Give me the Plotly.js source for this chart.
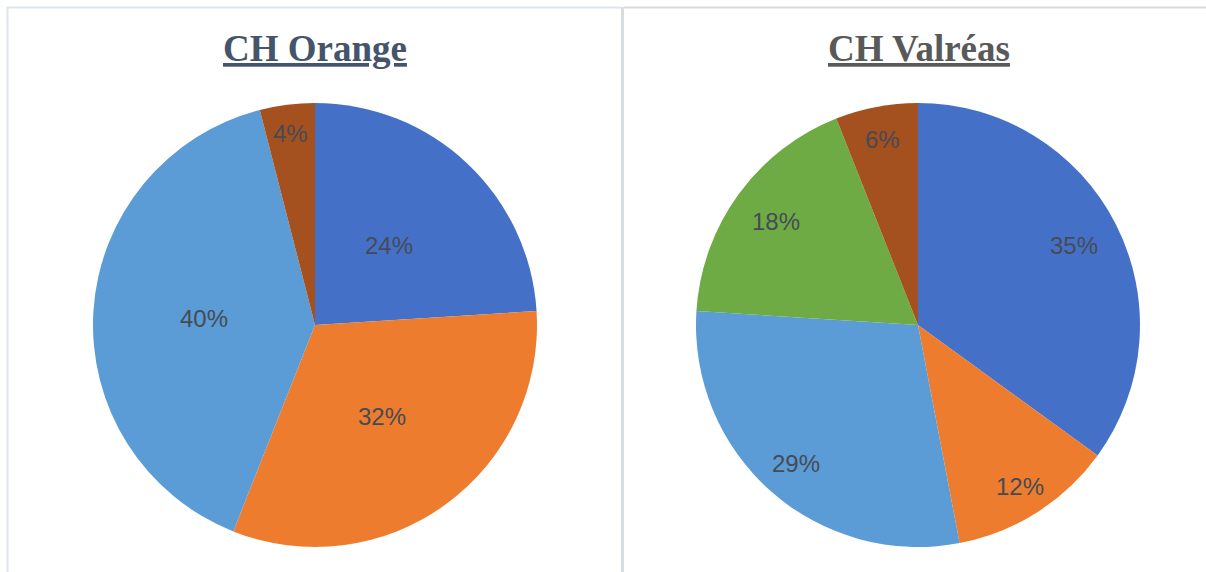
<!DOCTYPE html>
<html>
<head>
<meta charset="utf-8">
<script src="https://cdn.plot.ly/plotly-3.0.1.min.js"></script>
<style>html,body{margin:0;padding:0;background:#fff;}#chart{width:1206px;height:572px;}</style>
</head>
<body>
<div id="chart"></div>
<script>
const titles = ["CH Orange", "CH Valréas"];
const orangeCats = ["A", "B", "C", "D"];
const orangeVals = [24, 32, 40, 4];
const valreasCats = ["A", "B", "C", "E", "D"];
const valreasVals = [35, 12, 29, 18, 6];
const catColors = {A: "#4471C7", B: "#EE7C2E", C: "#5B9BD6", E: "#6EAB45", D: "#A5501F"};
// label distance from centre as a fraction of the radius (style, Excel "best fit")
const orangeLabelR = [0.49, 0.51, 0.50, 0.87];
const valreasLabelR = [0.79, 0.86, 0.83, 0.79, 0.85];

const W = 1206, H = 572;
const R = 222, CY = 325;
const CX = [315, 918];
function dom(cx, cy, r) {
  return {x: [(cx - r) / W, (cx + r) / W], y: [(H - cy - r) / H, (H - cy + r) / H]};
}
function pie(cats, vals, d) {
  return {
    type: "pie", labels: cats, values: vals, sort: false, direction: "clockwise", rotation: 0,
    domain: d, textinfo: "none",
    marker: {colors: cats.map(c => catColors[c]), line: {width: 0}},
    showlegend: false, hoverinfo: "none"
  };
}
function labels(vals, fr, cx) {
  const tot = vals.reduce((a, b) => a + b, 0);
  let cum = 0;
  return vals.map((v, i) => {
    const mid = (cum + v / 2) / tot * 2 * Math.PI;
    cum += v;
    const px = cx + Math.sin(mid) * fr[i] * R;
    const py = CY - Math.cos(mid) * fr[i] * R;
    return {text: Math.round(v / tot * 100) + "%", x: px / W, y: 1 - py / H, xref: "paper", yref: "paper",
      xanchor: "center", yanchor: "middle", showarrow: false,
      font: {family: "Liberation Sans, Arial, sans-serif", size: 24, color: "#454B55"}};
  });
}
const data = [pie(orangeCats, orangeVals, dom(CX[0], CY, R)), pie(valreasCats, valreasVals, dom(CX[1], CY, R))];
const layout = {
  width: W, height: H, margin: {l: 0, r: 0, t: 0, b: 0},
  paper_bgcolor: "#ffffff", plot_bgcolor: "#ffffff",
  annotations: [
    {text: "<b><u>" + titles[0] + "</u></b>", x: 315 / W, y: 1 - 49 / H, xref: "paper", yref: "paper", showarrow: false,
     xanchor: "center", yanchor: "middle",
     font: {family: "Liberation Serif, Times New Roman, serif", size: 37, color: "#44546A"}},
    {text: "<b><u>" + titles[1] + "</u></b>", x: 919 / W, y: 1 - 49 / H, xref: "paper", yref: "paper", showarrow: false,
     xanchor: "center", yanchor: "middle",
     font: {family: "Liberation Serif, Times New Roman, serif", size: 37, color: "#595959"}}
  ].concat(labels(orangeVals, orangeLabelR, CX[0]), labels(valreasVals, valreasLabelR, CX[1])),
  shapes: [
    {type: "line", xref: "paper", yref: "paper", x0: 7 / W, x1: 621 / W, y0: 1 - 7.5 / H, y1: 1 - 7.5 / H, line: {color: "#dfe5ea", width: 2}},
    {type: "line", xref: "paper", yref: "paper", x0: 7.5 / W, x1: 7.5 / W, y0: 0, y1: 1 - 7 / H, line: {color: "#dfe5ea", width: 2}},
    {type: "line", xref: "paper", yref: "paper", x0: 622.5 / W, x1: 622.5 / W, y0: 0, y1: 1 - 7 / H, line: {color: "#d8dde2", width: 3}},
    {type: "line", xref: "paper", yref: "paper", x0: 624 / W, x1: 1, y0: 1 - 7.5 / H, y1: 1 - 7.5 / H, line: {color: "#d9d9d9", width: 2}}
  ]
};
Plotly.newPlot("chart", data, layout, {staticPlot: true, displayModeBar: false});
</script>
</body>
</html>
